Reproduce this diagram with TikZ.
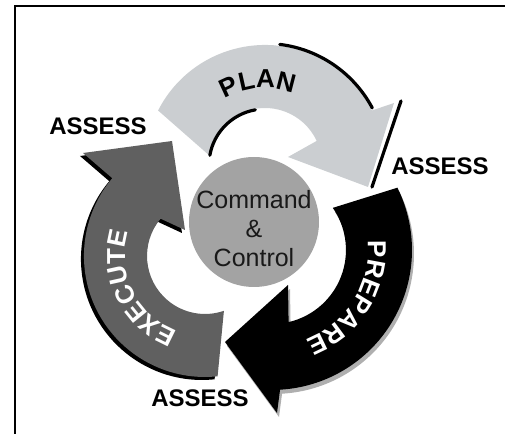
\documentclass[tikz,border=0pt]{standalone}
\usepackage{fontspec}
\setmainfont{Liberation Sans}
\usetikzlibrary{calc, decorations.text}
\definecolor{plangray}{RGB}{203, 206, 209}
\definecolor{executegray}{RGB}{96, 96, 96}
\definecolor{hubgray}{RGB}{163, 163, 163}
\definecolor{shadowgray}{RGB}{175, 175, 175}
\newcommand{\arrowfont}{\fontsize{13}{15}\selectfont\bfseries}

\begin{document}
\begin{tikzpicture}[
    x=0.5pt, y=0.5pt,
    assess/.style={font=\fontsize{12}{14}\selectfont\bfseries, inner sep=0pt},
    hub/.style={circle, fill=hubgray, minimum size=65pt, inner sep=0pt},
    hublabel/.style={align=center, font=\fontsize{12.5}{14.5}\selectfont, text=black!90},
    rim/.style={line width=1.6pt, line cap=round}
]
    \useasboundingbox (0,0) rectangle (505,434);
    % frame
    \draw[line width=1.2pt] (15,-5) -- (15,428) -- (510,428);

    % arc centres
    \coordinate (P) at (265,269);
    \coordinate (E) at (205,178);
    \coordinate (Q) at (272,184);

    % PLAN arrow
    \fill[plangray] (158.1,323.5) arc[start angle=153, end angle=27, radius=120]
        -- (394,331) -- (368,247) -- (288,277)
        -- (316.7,293.1) arc[start angle=25, end angle=170, radius=57] -- cycle;
    \draw[rim] ($(P)+(170:56)$) arc[start angle=170, end angle=100, radius=56];
    \draw[rim] ($(P)+(83:121.5)$) arc[start angle=83, end angle=28, radius=121.5];
    \draw[rim] (401,333) -- (372,247);

    % EXECUTE arrow, dark shadow first
    \foreach \dx/\dy/\col in {-3/-3/black, 0/0/executegray} {
        \fill[\col, shift={(\dx,\dy)}] (217.6,57.7) arc[start angle=276, end angle=140, radius=121]
            -- (83,281) -- (172,293) -- (185,204)
            -- (160.6,215.3) arc[start angle=140, end angle=289, radius=58] -- cycle;
    }

    % PREPARE arrow, light shadow first
    \foreach \dx/\dy/\col in {2/-4/shadowgray, 0/0/black} {
        \fill[\col, shift={(\dx,\dy)}] (397.4,246.3) arc[start angle=26.4, end angle=-86.7, radius=140]
            -- (277,21) -- (225,92) -- (288,149)
            -- (288.6,111.9) arc[start angle=-77, end angle=34.7, radius=74] -- cycle;
    }

    % arrow labels
    \path[decorate, decoration={text along path, text align=center, text={|\arrowfont|PLAN}}]
        ($(P)+(155:77)$) arc[start angle=155, end angle=35, radius=77];
    \path[decorate, decoration={text along path, text align=center, text={|\color{white}\arrowfont|PREPARE}}]
        ($(Q)+(28:96)$) arc[start angle=28, end angle=-92, radius=96];
    \path[decorate, decoration={text along path, text align=center, text={|\color{white}\arrowfont|EXECUTE}}]
        ($(E)+(266:80)$) arc[start angle=266, end angle=146, radius=80];

    % centre
    \node[hub] (cc) at (254,212) {};
    \node[hublabel] (cclabel) at (254,205) {Command\\\&\\Control};

    % assess labels
    \node[assess] (assessleft) at (98,308) {ASSESS};
    \node[assess] (assessright) at (440,268) {ASSESS};
    \node[assess] (assessbottom) at (200,36) {ASSESS};
\end{tikzpicture}
\end{document}
